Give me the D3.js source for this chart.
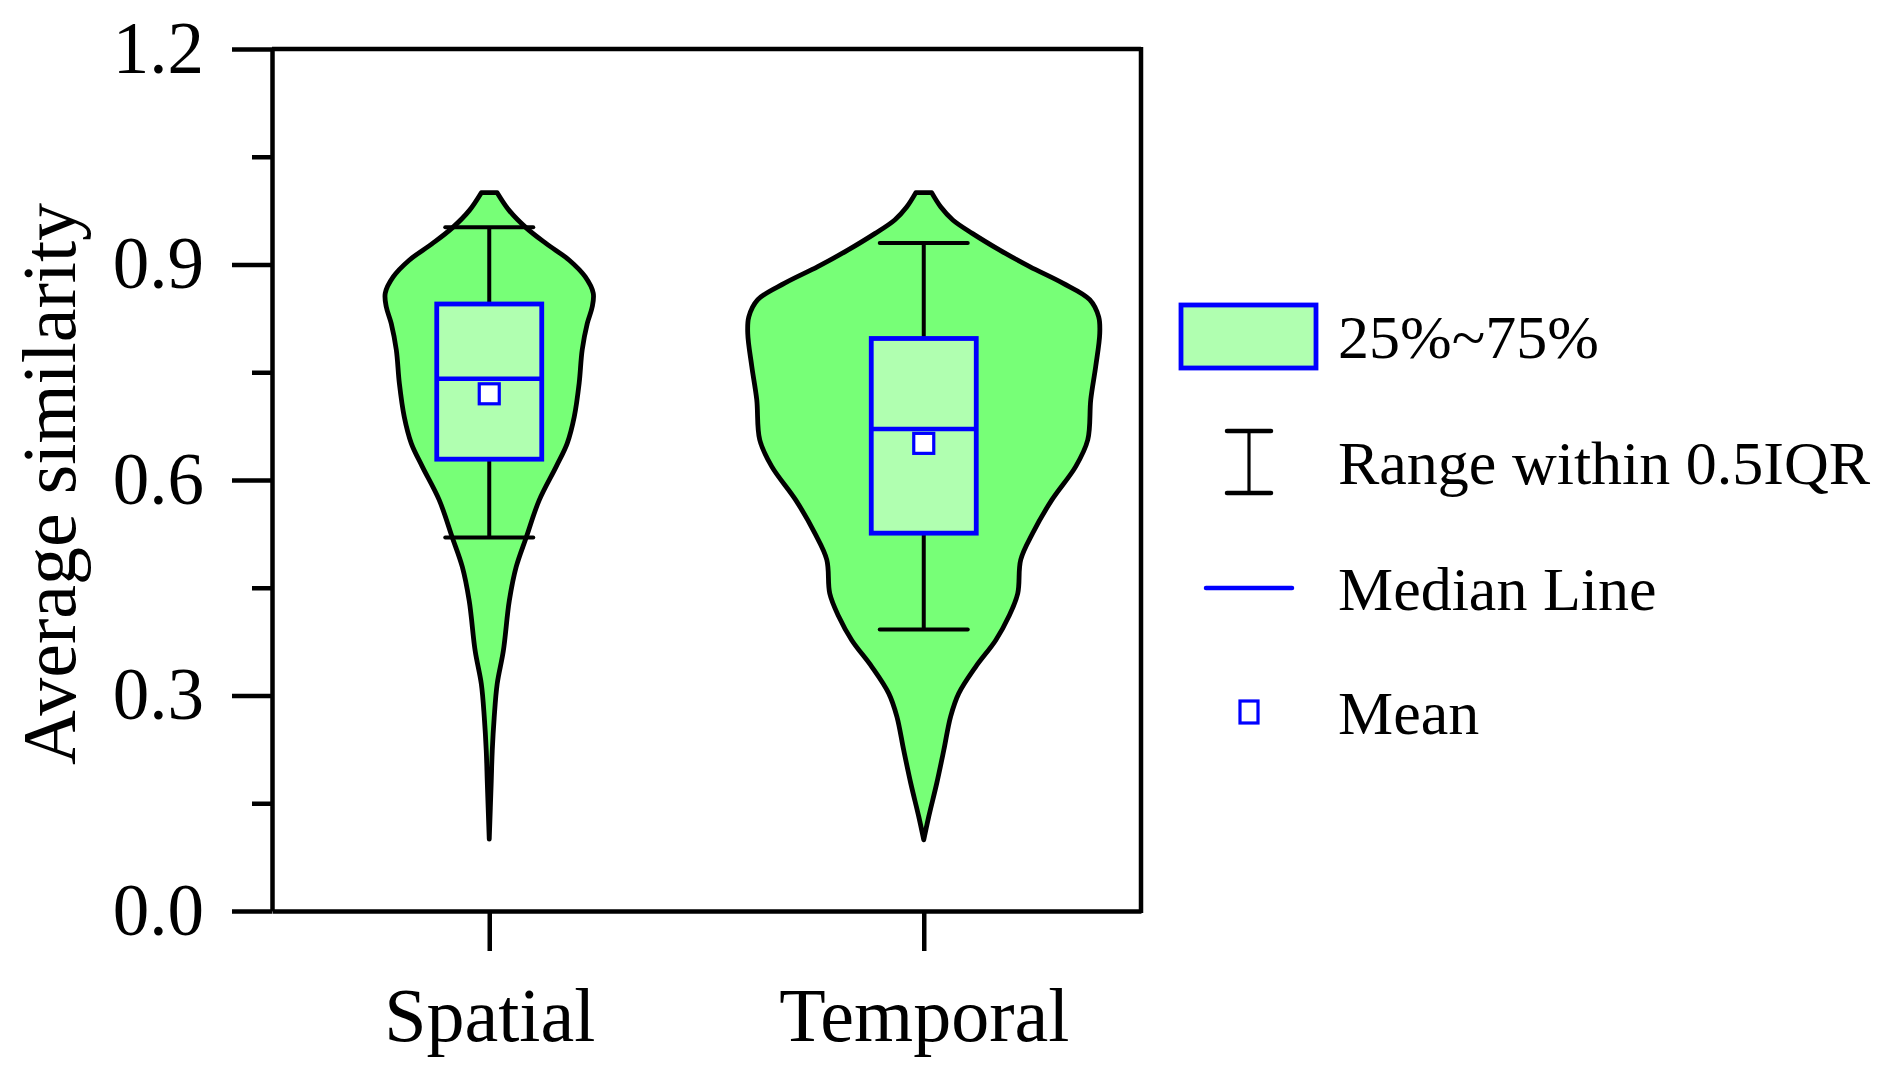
<!DOCTYPE html>
<html>
<head>
<meta charset="utf-8">
<script src="https://cdn.jsdelivr.net/npm/d3@7"></script>
<style>
  html, body { margin: 0; padding: 0; background: #ffffff; }
  svg { display: block; }
  text { font-family: "Liberation Serif", "Times New Roman", serif; fill: #000; }
</style>
</head>
<body>
<svg id="chart" width="1883" height="1074"></svg>
<script>
// ---------------- DATA ----------------
const categories = ["Spatial", "Temporal"];

// violin outlines: value levels and relative density (max = 1)
const spatialLevels  = [1.00, 0.975, 0.951, 0.929, 0.906, 0.883, 0.860, 0.841, 0.818, 0.781, 0.735, 0.688, 0.651, 0.619, 0.572, 0.520, 0.479, 0.432, 0.362, 0.316, 0.269, 0.223, 0.178, 0.10];
const spatialDensity = [0.045, 0.114, 0.210, 0.324, 0.455, 0.545, 0.591, 0.585, 0.557, 0.528, 0.511, 0.483, 0.443, 0.381, 0.284, 0.210, 0.153, 0.114, 0.080, 0.045, 0.028, 0.017, 0.011, 0.0];

const temporalLevels  = [1.000, 0.980, 0.962, 0.943, 0.920, 0.897, 0.874, 0.851, 0.827, 0.804, 0.758, 0.712, 0.656, 0.619, 0.572, 0.526, 0.489, 0.442, 0.410, 0.377, 0.340, 0.303, 0.271, 0.224, 0.178, 0.131, 0.099];
const temporalDensity = [0.045, 0.097, 0.165, 0.278, 0.432, 0.602, 0.790, 0.943, 0.994, 1.000, 0.977, 0.949, 0.932, 0.864, 0.727, 0.619, 0.551, 0.534, 0.483, 0.409, 0.295, 0.199, 0.153, 0.114, 0.074, 0.028, 0.0];

// box statistics per category (same order as categories)
const whiskerLow  = [0.520, 0.392];
const q1Values    = [0.629, 0.526];
const medians     = [0.741, 0.671];
const q3Values    = [0.845, 0.797];
const whiskerHigh = [0.952, 0.930];
const means       = [0.720, 0.651];

const yTickValues = [0.0, 0.3, 0.6, 0.9, 1.2];
const yMinorTicks = [0.15, 0.45, 0.75, 1.05];

const yTitle = "Average similarity";
const legendLabels = ["25%~75%", "Range within 0.5IQR", "Median Line", "Mean"];

// ---------------- LAYOUT ----------------
const svg = d3.select("#chart");
const plot = { left: 272, right: 1141, top: 49, bottom: 911 };

const x = d3.scalePoint().domain(categories).range([plot.left, plot.right]).padding(0.5);
const y = d3.scaleLinear().domain([0, 1.2]).range([plot.bottom, plot.top]);
const w = d3.scaleLinear().domain([0, 1]).range([0, 176]);

const violinFill = "#77ff77";
const boxFill = "#b0ffb0";
const blue = "#0000ff";
const boxHalf = 52.5;
const capHalf = 44;

const violins = [
  { cat: "Spatial", pts: spatialLevels.map((v, i) => ({ v, d: spatialDensity[i] })) },
  { cat: "Temporal", pts: temporalLevels.map((v, i) => ({ v, d: temporalDensity[i] })) }
];

// violins
const area = d3.area()
  .y(p => y(p.v))
  .curve(d3.curveCatmullRom.alpha(0.5));

violins.forEach(vl => {
  const cx = x(vl.cat);
  svg.append("path")
    .datum(vl.pts)
    .attr("d", area.x0(p => cx - w(p.d)).x1(p => cx + w(p.d)))
    .attr("fill", violinFill)
    .attr("stroke", "#000")
    .attr("stroke-width", 4.8)
    .attr("stroke-linejoin", "round");
});

// boxes
categories.forEach((c, i) => {
  const cx = x(c);
  const g = svg.append("g");
  // whisker lines
  g.append("line").attr("x1", cx).attr("x2", cx).attr("y1", y(whiskerHigh[i])).attr("y2", y(q3Values[i]))
    .attr("stroke", "#000").attr("stroke-width", 4);
  g.append("line").attr("x1", cx).attr("x2", cx).attr("y1", y(q1Values[i])).attr("y2", y(whiskerLow[i]))
    .attr("stroke", "#000").attr("stroke-width", 4);
  [whiskerHigh[i], whiskerLow[i]].forEach(v => {
    g.append("line").attr("x1", cx - capHalf).attr("x2", cx + capHalf).attr("y1", y(v)).attr("y2", y(v))
      .attr("stroke", "#000").attr("stroke-width", 4).attr("stroke-linecap", "round");
  });
  // box
  g.append("rect").attr("x", cx - boxHalf).attr("y", y(q3Values[i]))
    .attr("width", boxHalf * 2).attr("height", y(q1Values[i]) - y(q3Values[i]))
    .attr("fill", boxFill).attr("stroke", blue).attr("stroke-width", 4.8);
  // median
  g.append("line").attr("x1", cx - boxHalf).attr("x2", cx + boxHalf).attr("y1", y(medians[i])).attr("y2", y(medians[i]))
    .attr("stroke", blue).attr("stroke-width", 4.5);
  // mean
  g.append("rect").attr("x", cx - 10).attr("y", y(means[i]) - 10).attr("width", 20).attr("height", 20)
    .attr("fill", "#fff").attr("stroke", blue).attr("stroke-width", 3.2);
});

// ---------------- AXES ----------------
const yAxis = d3.axisLeft(y).tickValues(yTickValues).tickSize(40).tickSizeOuter(0).tickPadding(28)
  .tickFormat(d3.format(".1f"));
const gy = svg.append("g").attr("transform", `translate(${plot.left},0)`).call(yAxis);
gy.selectAll("text").style("font-size", "73px");

const yMinor = d3.axisLeft(y).tickValues(yMinorTicks).tickSize(20).tickSizeOuter(0).tickFormat("");
const gym = svg.append("g").attr("transform", `translate(${plot.left},0)`).call(yMinor);
gym.select(".domain").remove();

const xAxis = d3.axisBottom(x).tickSize(40).tickSizeOuter(0).tickPadding(36);
const gx = svg.append("g").attr("transform", `translate(0,${plot.bottom})`).call(xAxis);
gx.selectAll("text").style("font-size", "76px");

// top and right frame lines
svg.append("line").attr("x1", plot.left).attr("x2", plot.right).attr("y1", plot.top).attr("y2", plot.top)
  .attr("stroke", "#000").attr("stroke-width", 4.5);
svg.append("line").attr("x1", plot.right).attr("x2", plot.right).attr("y1", plot.top - 2).attr("y2", plot.bottom + 2)
  .attr("stroke", "#000").attr("stroke-width", 4.5);

svg.selectAll(".domain, .tick line").attr("stroke", "#000").attr("stroke-width", 4.5);
svg.selectAll(".tick text").attr("fill", "#000").style("font-family", "'Liberation Serif', 'Times New Roman', serif");

// y title
svg.append("text")
  .attr("transform", "translate(75,484) rotate(-90)")
  .attr("text-anchor", "middle")
  .style("font-size", "76px")
  .text(yTitle);

// ---------------- LEGEND ----------------
const legX = 1249, legTextX = 1338;
const legY = [336, 462, 588, 712];
const lg = svg.append("g");

// box
lg.append("rect").attr("x", legX - 68).attr("y", legY[0] - 31).attr("width", 135).attr("height", 63)
  .attr("fill", boxFill).attr("stroke", blue).attr("stroke-width", 4.8);
// whisker icon
lg.append("line").attr("x1", legX).attr("x2", legX).attr("y1", legY[1] - 31).attr("y2", legY[1] + 31)
  .attr("stroke", "#000").attr("stroke-width", 3.2);
[legY[1] - 31, legY[1] + 31].forEach(yy => {
  lg.append("line").attr("x1", legX - 22).attr("x2", legX + 22).attr("y1", yy).attr("y2", yy)
    .attr("stroke", "#000").attr("stroke-width", 4.5).attr("stroke-linecap", "round");
});
// median line
lg.append("line").attr("x1", legX - 43).attr("x2", legX + 43).attr("y1", legY[2]).attr("y2", legY[2])
  .attr("stroke", blue).attr("stroke-width", 4.5).attr("stroke-linecap", "round");
// mean
lg.append("rect").attr("x", legX - 9).attr("y", legY[3] - 11).attr("width", 18).attr("height", 22)
  .attr("fill", "#fff").attr("stroke", blue).attr("stroke-width", 3.2);

lg.selectAll("text.leg").data(legendLabels).enter().append("text")
  .attr("class", "leg")
  .attr("x", legTextX)
  .attr("y", (d, i) => legY[i])
  .attr("dy", "0.35em")
  .style("font-size", "62px")
  .text(d => d);
</script>
</body>
</html>
